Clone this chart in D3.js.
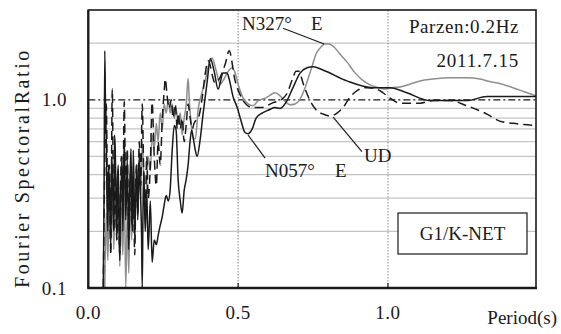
<!DOCTYPE html>
<html>
<head>
<meta charset="utf-8">
<script src="https://cdn.jsdelivr.net/npm/d3@7"></script>
<style>
  html, body { margin: 0; padding: 0; background: #fff; }
  svg { display: block; }
</style>
</head>
<body>
<svg id="chart" width="561" height="334" font-family="'Liberation Serif', 'DejaVu Serif', serif"></svg>
<script>
// Spectral ratio series: [period (s), ratio]
const seriesN327 = [
  [0.055,0.10],[0.06,0.25],[0.065,0.14],[0.07,0.30],[0.075,0.18],[0.08,0.38],[0.085,0.16],[0.09,0.33],
  [0.095,0.20],[0.10,0.42],[0.105,0.13],[0.11,0.28],[0.115,0.15],[0.12,0.35],[0.125,0.10],[0.13,0.25],
  [0.135,0.12],[0.14,0.30],[0.145,0.18],[0.15,0.45],[0.155,0.22],[0.16,0.40],[0.165,0.25],[0.17,0.55],
  [0.175,0.30],[0.18,0.60],[0.185,0.40],[0.19,0.22],[0.195,0.35],[0.20,0.50],[0.207,0.42],[0.213,0.65],
  [0.22,0.55],[0.227,0.75],[0.233,0.60],[0.24,0.85],[0.247,0.70],[0.253,0.95],[0.26,0.85],[0.267,1.00],
  [0.273,0.85],[0.28,0.95],[0.287,0.80],[0.293,0.90],[0.30,0.75],[0.307,0.85],[0.313,0.65],[0.32,0.80],
  [0.327,0.95],[0.333,1.30],[0.337,1.00],[0.343,0.75],[0.35,0.62],[0.357,0.62],[0.367,0.90],[0.38,1.10],
  [0.39,1.26],[0.40,1.50],[0.413,1.67],[0.427,1.42],[0.44,1.21],[0.453,1.29],[0.467,1.42],[0.48,1.48],
  [0.49,1.39],[0.50,1.21],[0.517,1.02],[0.533,0.95],[0.55,0.93],[0.567,0.99],[0.583,1.01],[0.60,1.04],
  [0.623,1.09],[0.64,1.05],[0.657,0.98],[0.673,0.94],[0.69,0.95],[0.707,1.01],[0.72,1.12],[0.733,1.29],
  [0.747,1.51],[0.76,1.75],[0.773,1.88],[0.79,1.98],[0.803,1.98],[0.817,1.93],[0.84,1.75],[0.863,1.59],
  [0.89,1.39],[0.913,1.28],[0.94,1.20],[0.967,1.16],[0.99,1.14],[1.013,1.16],[1.04,1.17],[1.073,1.21],
  [1.107,1.26],[1.15,1.29],[1.207,1.31],[1.263,1.31],[1.307,1.29],[1.34,1.25],[1.373,1.22],[1.417,1.16],
  [1.457,1.10],[1.494,1.05]
];

const seriesN057 = [
  [0.05,0.10],[0.0525,0.30],[0.055,1.82],[0.0575,0.90],[0.06,0.61],[0.0625,0.28],[0.065,0.20],[0.0675,0.45],
  [0.07,0.37],[0.0725,0.25],[0.075,0.16],[0.0775,0.50],[0.08,0.42],[0.0825,0.28],[0.085,0.20],[0.0875,0.65],
  [0.09,0.54],[0.0925,0.30],[0.095,0.18],[0.0975,0.38],[0.10,0.45],[0.1025,0.22],[0.105,0.14],[0.1075,0.30],
  [0.11,0.37],[0.1125,0.50],[0.115,0.20],[0.1175,0.35],[0.12,0.61],[0.1225,0.40],[0.125,0.23],[0.1275,0.32],
  [0.13,0.48],[0.1325,0.28],[0.135,0.16],[0.1375,0.30],[0.14,0.42],[0.1425,0.55],[0.145,0.26],[0.1475,0.20],
  [0.15,0.54],[0.1525,0.35],[0.155,0.18],[0.1575,0.28],[0.16,0.37],[0.1625,0.45],[0.165,0.23],[0.1675,0.32],
  [0.17,0.48],[0.1725,0.38],[0.175,0.29],[0.1775,0.20],[0.18,0.10],[0.1825,0.25],[0.185,0.42],[0.1875,0.30],
  [0.19,0.20],[0.1925,0.27],[0.195,0.33],[0.1975,0.22],[0.20,0.16],[0.207,0.29],
  [0.213,0.137],[0.22,0.18],[0.227,0.17],[0.233,0.19],[0.24,0.215],[0.247,0.24],[0.253,0.275],[0.26,0.31],
  [0.267,0.29],[0.273,0.33],[0.28,0.54],[0.287,0.73],[0.293,0.69],[0.30,0.37],[0.307,0.29],[0.313,0.25],
  [0.32,0.33],[0.327,0.38],[0.333,0.45],[0.34,0.61],[0.345,0.69],[0.35,0.63],[0.357,0.54],[0.363,0.50],
  [0.373,0.61],[0.383,0.84],[0.397,1.26],[0.407,1.65],[0.42,1.42],[0.433,1.14],[0.45,1.39],[0.463,1.39],
  [0.47,1.29],[0.483,1.04],[0.497,0.91],[0.51,0.77],[0.523,0.67],[0.533,0.66],[0.547,0.70],[0.56,0.80],
  [0.58,0.85],[0.60,0.88],[0.623,0.91],[0.64,0.90],[0.663,0.99],[0.683,1.16],[0.707,1.39],[0.73,1.48],
  [0.75,1.50],[0.783,1.44],[0.863,1.26],[0.95,1.16],[1.007,1.16],[1.063,1.09],[1.14,0.99],[1.263,0.99],
  [1.33,1.04],[1.494,1.04]
];

const seriesUD = [
  [0.05,0.10],[0.06,0.95],[0.065,0.25],[0.07,0.45],[0.075,0.15],[0.08,1.14],[0.085,0.20],[0.09,0.40],
  [0.095,0.18],[0.10,0.35],[0.105,0.15],[0.11,0.50],[0.115,0.25],[0.12,0.98],[0.125,0.30],[0.13,0.55],
  [0.135,0.18],[0.14,0.40],[0.145,0.22],[0.15,0.35],[0.155,0.15],[0.16,0.45],[0.165,0.25],[0.17,0.60],
  [0.175,0.35],[0.18,0.95],[0.185,0.40],[0.19,0.25],[0.195,0.50],[0.20,0.30],[0.207,0.45],[0.213,0.97],
  [0.22,0.50],[0.227,0.35],[0.233,0.60],[0.24,0.45],[0.247,0.80],[0.253,1.10],[0.257,1.29],[0.263,1.05],
  [0.27,0.90],[0.277,1.00],[0.283,0.80],[0.29,0.95],[0.297,0.70],[0.30,0.85],[0.307,0.70],[0.313,0.80],
  [0.32,0.60],[0.327,0.75],[0.333,0.95],[0.34,0.80],[0.347,0.70],[0.353,0.75],[0.36,0.78],[0.367,0.80],
  [0.38,1.02],[0.39,1.37],[0.40,1.61],[0.423,1.23],[0.457,1.55],[0.47,1.82],[0.49,1.26],[0.507,1.06],
  [0.523,0.96],[0.547,0.91],[0.58,0.91],[0.613,0.96],[0.647,1.01],[0.663,1.08],[0.683,1.31],[0.693,1.42],
  [0.703,1.42],[0.717,1.22],[0.74,0.99],[0.763,0.875],[0.783,0.84],[0.807,0.82],[0.83,0.85],[0.85,0.91],
  [0.873,1.03],[0.897,1.12],[0.93,1.16],[0.963,1.14],[0.983,1.09],[1.007,1.02],[1.04,0.96],[1.073,0.96],
  [1.107,0.96],[1.15,0.99],[1.207,0.99],[1.263,0.93],[1.33,0.84],[1.373,0.77],[1.417,0.75],[1.494,0.73]
];

// Axis ticks and grid
const xTickValues = [0.0, 0.5, 1.0];
const xTickLabels = ["0.0", "0.5", "1.0"];
const yTickValues = [0.1, 1.0];
const yTickLabels = ["0.1", "1.0"];
const yGridValues = [0.2, 0.3, 0.4, 0.5, 0.6, 0.7, 0.8, 0.9, 2.0];
const xGridValues = [0.5, 1.0];

const svg = d3.select("#chart");
const plotL = 88.3, plotR = 536, plotT = 10, plotB = 288;
const ink = "#1a1a1a";

const x = d3.scaleLinear().domain([0, 1.494]).range([plotL, plotR]);
const y = d3.scaleLog().domain([0.1, 3]).range([plotB, plotT]);

svg.append("defs").append("clipPath").attr("id", "plotClip")
  .append("rect").attr("x", plotL).attr("y", plotT)
  .attr("width", plotR - plotL).attr("height", plotB - plotT);

// horizontal grid
svg.append("g").selectAll("line").data(yGridValues).join("line")
  .attr("x1", plotL).attr("x2", plotR)
  .attr("y1", d => y(d)).attr("y2", d => y(d))
  .attr("stroke", "#c4c4c4").attr("stroke-width", 1.3);

// vertical dotted grid
svg.append("g").selectAll("line").data(xGridValues).join("line")
  .attr("x1", d => x(d)).attr("x2", d => x(d))
  .attr("y1", plotT).attr("y2", plotB)
  .attr("stroke", "#8a8a8a").attr("stroke-width", 1)
  .attr("stroke-dasharray", "1.5,1.5");

// unity reference line
svg.append("line")
  .attr("x1", plotL).attr("x2", plotR + 2)
  .attr("y1", y(1)).attr("y2", y(1))
  .attr("stroke", ink).attr("stroke-width", 1.2)
  .attr("stroke-dasharray", "7,3,2,3");

const line = d3.line().x(d => x(d[0])).y(d => y(d[1])).curve(d3.curveMonotoneX);
const plot = svg.append("g").attr("clip-path", "url(#plotClip)");

plot.append("path").datum(seriesN327).attr("d", line)
  .attr("fill", "none").attr("stroke", "#8e8e8e").attr("stroke-width", 1.5)
  .attr("stroke-linejoin", "round");
plot.append("path").datum(seriesUD).attr("d", line)
  .attr("fill", "none").attr("stroke", ink).attr("stroke-width", 1.5)
  .attr("stroke-dasharray", "9,5");
plot.append("path").datum(seriesN057).attr("d", line)
  .attr("fill", "none").attr("stroke", ink).attr("stroke-width", 1.5)
  .attr("stroke-linejoin", "round");

// frame
svg.append("rect").attr("x", plotL).attr("y", plotT)
  .attr("width", plotR - plotL).attr("height", plotB - plotT)
  .attr("fill", "none").attr("stroke", ink).attr("stroke-width", 1.6);
svg.append("line").attr("x1", plotL - 1).attr("x2", plotR + 1)
  .attr("y1", plotB).attr("y2", plotB)
  .attr("stroke", ink).attr("stroke-width", 2.6);
svg.append("line").attr("x1", plotL).attr("x2", plotL)
  .attr("y1", plotT).attr("y2", plotB)
  .attr("stroke", ink).attr("stroke-width", 2.2);

// x ticks
svg.append("g").selectAll("line").data(xTickValues.slice(1)).join("line")
  .attr("x1", d => x(d)).attr("x2", d => x(d))
  .attr("y1", plotB).attr("y2", plotB - 5)
  .attr("stroke", ink).attr("stroke-width", 1.2);

const txt = (sel) => sel.attr("fill", ink).attr("font-size", 19);

svg.append("g").selectAll("text").data(xTickValues).join("text")
  .call(txt)
  .attr("x", d => x(d)).attr("y", 319)
  .attr("text-anchor", "middle").attr("letter-spacing", 0.5)
  .text((d, i) => xTickLabels[i]);

svg.append("g").selectAll("text").data(yTickValues).join("text")
  .call(txt)
  .attr("x", 67).attr("y", d => y(d) + 6.5)
  .attr("text-anchor", "end").attr("letter-spacing", 0.5)
  .text((d, i) => yTickLabels[i]);

// axis titles
svg.append("text").call(txt).attr("x", 557).attr("y", 324)
  .attr("text-anchor", "end")
  .text("Period(s)");
svg.append("text").call(txt)
  .attr("transform", "translate(29,168) rotate(-90)")
  .attr("text-anchor", "middle").attr("font-size", 20)
  .attr("letter-spacing", 2.6)
  .text("Fourier SpectoralRatio");

// annotations
svg.append("text").call(txt).attr("x", 519).attr("y", 33)
  .attr("text-anchor", "end").attr("letter-spacing", 0.6)
  .text("Parzen:0.2Hz");
svg.append("text").call(txt).attr("x", 519).attr("y", 67)
  .attr("text-anchor", "end").attr("letter-spacing", 0.8)
  .text("2011.7.15");

const n327 = svg.append("text").call(txt).attr("x", 242).attr("y", 30);
n327.append("tspan").text("N327°");
n327.append("tspan").attr("x", 311).text("E");

const n057 = svg.append("text").call(txt).attr("x", 265).attr("y", 177);
n057.append("tspan").text("N057°");
n057.append("tspan").attr("x", 335).text("E");

svg.append("text").call(txt).attr("x", 364).attr("y", 162).text("UD");

// leader lines, anchored in data space
const leaders = [
  [[0.65, 2.40], [0.787, 1.98]],
  [[0.533, 0.65], [0.59, 0.49]],
  [[0.817, 0.81], [0.913, 0.53]]
];
svg.append("g").selectAll("line").data(leaders).join("line")
  .attr("x1", d => x(d[0][0])).attr("y1", d => y(d[0][1]))
  .attr("x2", d => x(d[1][0])).attr("y2", d => y(d[1][1]))
  .attr("stroke", ink).attr("stroke-width", 1.2);

// station box
svg.append("rect").attr("x", 398).attr("y", 213).attr("width", 129).attr("height", 41)
  .attr("fill", "#fff").attr("stroke", ink).attr("stroke-width", 1.2);
svg.append("text").call(txt).attr("x", 462.5).attr("y", 240)
  .attr("text-anchor", "middle")
  .text("G1/K-NET");
</script>
</body>
</html>
